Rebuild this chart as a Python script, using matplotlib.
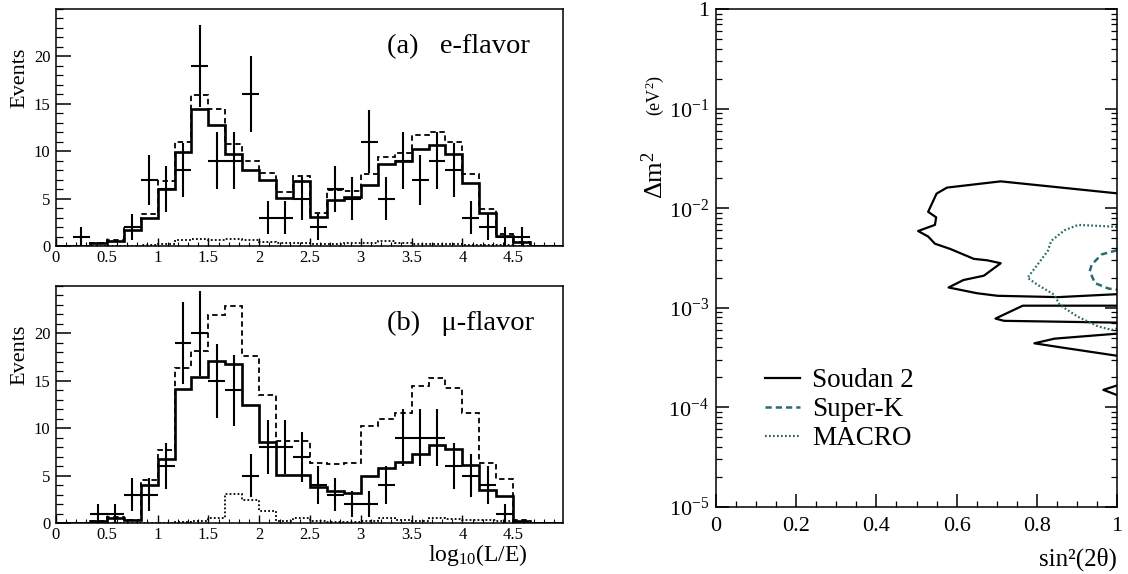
import numpy as np
import matplotlib
matplotlib.use('Agg')
import matplotlib.pyplot as plt
from matplotlib.ticker import MultipleLocator, FixedLocator, FixedFormatter, NullFormatter

plt.rcParams['font.family'] = 'Liberation Serif'
plt.rcParams['mathtext.fontset'] = 'custom'
plt.rcParams['mathtext.rm'] = 'Liberation Serif'
plt.rcParams['mathtext.it'] = 'Liberation Serif:italic'
plt.rcParams['mathtext.bf'] = 'Liberation Serif:bold'

# ---- L/E histograms (30 bins from 0 to 5) ----
bin_edges = np.linspace(0, 5, 31)
nan = np.nan

a_solid = [0, 0, 0.3, 0.5, 1.7, 3.0, 6.0, 9.9, 14.4, 12.8, 9.7, 8.0, 7.0, 5.1, 6.9,
           3.1, 4.9, 5.2, 6.4, 8.6, 9.0, 10.2, 10.7, 9.7, 6.6, 3.5, 1.1, 0.4, 0, 0]
a_dash = [0, 0, 0.3, 0.6, 2.0, 3.4, 6.9, 11.0, 15.9, 14.4, 10.8, 9.0, 7.7, 5.7, 7.4,
          3.5, 5.9, 5.8, 7.6, 9.4, 9.8, 11.7, 12.0, 11.0, 7.6, 3.9, 1.3, 0.4, 0, 0]
a_dot = [0, 0, 0, 0, 0, 0.1, 0.25, 0.6, 0.75, 0.6, 0.7, 0.6, 0.4, 0.3, 0.3,
         0.2, 0.2, 0.3, 0.3, 0.5, 0.3, 0.2, 0.2, 0.2, 0.1, 0.1, 0.1, 0, 0, 0]
a_data = [nan, 1, nan, nan, 2, 7, 6, 8, 19, 9, 9, 16, 3, 3, 5,
          2, 6, 5, 11, 5, 9, 7, 9, 8, 3, 2, 1, 1, nan, nan]

b_solid = [0, 0, 0.2, 0.5, 0.3, 4.0, 6.8, 14.1, 15.4, 17.1, 16.8, 12.4, 8.5, 5.1, 5.1,
           3.8, 3.4, 3.2, 5.0, 5.8, 6.4, 7.3, 8.2, 7.8, 6.1, 3.5, 2.8, 0.2, 0, 0]
b_dash = [0, 0, 0.2, 0.6, 0.3, 4.5, 7.7, 16.4, 18.1, 21.9, 22.9, 17.6, 13.5, 8.6, 8.6,
          6.3, 6.2, 6.3, 10.2, 11.0, 11.6, 14.4, 15.3, 14.2, 11.6, 6.3, 4.6, 0.3, 0, 0]
b_dot = [0, 0, 0, 0, 0, 0, 0, 0.1, 0.2, 0.5, 3.1, 2.4, 1.3, 0.2, 0.5,
         0.2, 0.1, 0.1, 0.2, 0.5, 0.3, 0.2, 0.5, 0.4, 0.3, 0.3, 0.2, 0.1, 0, 0]
b_data = [nan, nan, 1, 1, 3, 3, 6, 19, 20, 15, 14, 5, 8, 8, 7,
          4, 3, 2, 2, 4, 9, 9, 9, 6, 5, 4, 1, nan, nan, nan]

x_ticks = [0, 0.5, 1, 1.5, 2, 2.5, 3, 3.5, 4, 4.5]
x_ticklabels = ['0', '0.5', '1', '1.5', '2', '2.5', '3', '3.5', '4', '4.5']
y_ticks = [0, 5, 10, 15, 20]

# ---- allowed region contours ----
soudan_main_s = [1.0, 0.71, 0.576, 0.550, 0.538, 0.529, 0.549, 0.546, 0.504, 0.529, 0.546,
                 0.584, 0.643, 0.676, 0.710, 0.668, 0.617, 0.580, 0.651, 0.702, 0.853, 1.0]
soudan_main_m = [1.41e-2, 1.86e-2, 1.61e-2, 1.40e-2, 1.10e-2, 9.2e-3, 8.1e-3, 6.8e-3, 5.9e-3,
                 5.2e-3, 4.4e-3, 3.9e-3, 3.1e-3, 3.0e-3, 2.8e-3, 2.1e-3, 1.9e-3, 1.6e-3,
                 1.4e-3, 1.32e-3, 1.28e-3, 1.37e-3]
soudan_lobe2_s = [1.0, 0.765, 0.697, 0.718, 1.0]
soudan_lobe2_m = [1.05e-3, 1.05e-3, 7.8e-4, 7.4e-4, 7.1e-4]
soudan_lobe3_s = [1.0, 0.844, 0.794, 0.861, 1.0]
soudan_lobe3_m = [5.5e-4, 4.9e-4, 4.4e-4, 4.0e-4, 3.3e-4]
soudan_lobe4_s = [1.0, 0.966, 1.0]
soudan_lobe4_m = [1.66e-4, 1.5e-4, 1.33e-4]

superk_s = [1.0, 0.962, 0.937, 0.932, 0.945, 0.979, 1.0]
superk_m = [3.78e-3, 3.44e-3, 2.72e-3, 2.33e-3, 1.77e-3, 1.56e-3, 1.52e-3]

macro_s = [1.0, 0.903, 0.869, 0.836, 0.827, 0.777, 0.802, 0.844, 0.857, 0.903, 0.953, 0.987, 1.0]
macro_m = [6.5e-3, 6.8e-3, 6.0e-3, 4.7e-3, 3.7e-3, 2.0e-3, 1.7e-3, 1.35e-3, 1.07e-3,
           8.1e-4, 6.5e-4, 6.0e-4, 6.2e-4]

teal = '#2b6b6b'

fig = plt.figure(figsize=(11.28, 5.74), dpi=100)
W, H = 1128.0, 574.0


def px_axes(left, top, right, bottom):
    return fig.add_axes([left / W, (H - bottom) / H, (right - left) / W, (bottom - top) / H])


def hist_panel(ax, solid, dash, dot, data, label):
    centers = 0.5 * (bin_edges[:-1] + bin_edges[1:])
    half = 0.5 * (bin_edges[1] - bin_edges[0])
    ax.stairs(dot, bin_edges, color='k', lw=1.3, linestyle=(0, (1, 1.2)))
    ax.stairs(dash, bin_edges, color='k', lw=1.3, linestyle=(0, (3, 2)))
    ax.stairs(solid, bin_edges, color='k', lw=1.9)
    d = np.array(data, dtype=float)
    ok = ~np.isnan(d)
    ax.errorbar(centers[ok], d[ok], xerr=half, yerr=np.sqrt(d[ok]), fmt='none',
                ecolor='k', elinewidth=1.5, capsize=0)
    ax.set_xlim(0, 4.99)
    ax.set_ylim(0, 25)
    ax.set_xticks(x_ticks)
    ax.set_xticklabels(x_ticklabels)
    ax.xaxis.set_minor_locator(MultipleLocator(0.1))
    ax.set_yticks(y_ticks)
    ax.yaxis.set_minor_locator(MultipleLocator(1))
    ax.tick_params(axis='y', which='major', direction='in', length=11, width=1.1, labelsize=12, pad=4)
    ax.tick_params(axis='y', which='minor', direction='in', length=5, width=0.9)
    ax.tick_params(axis='x', which='major', direction='in', length=6, width=1.0, labelsize=12, pad=3)
    ax.tick_params(axis='x', which='minor', direction='in', length=3, width=0.8)
    for sp in ax.spines.values():
        sp.set_linewidth(1.1)
    ax.text(0.653, 0.84, label, transform=ax.transAxes, fontsize=20.5, ha='left', va='center')
    ax.text(-0.072, 0.71, 'Events', transform=ax.transAxes, fontsize=16, rotation=90,
            ha='center', va='center')


ax_a = px_axes(56, 9, 563, 246)
hist_panel(ax_a, a_solid, a_dash, a_dot, a_data, '(a)   e-flavor')

ax_b = px_axes(56, 286, 563, 523)
hist_panel(ax_b, b_solid, b_dash, b_dot, b_data, '(b)   \u03bc-flavor')
ax_b.text(0.931, -0.135, r'log$_{10}$(L/E)', transform=ax_b.transAxes, fontsize=17,
          ha='right', va='center')

# ---- right panel ----
ax_c = px_axes(716, 9, 1117, 507)
ax_c.set_yscale('log')
ax_c.plot(soudan_main_s, soudan_main_m, color='k', lw=1.6, label='Soudan 2')
ax_c.plot(soudan_lobe2_s, soudan_lobe2_m, color='k', lw=1.6)
ax_c.plot(soudan_lobe3_s, soudan_lobe3_m, color='k', lw=1.6)
ax_c.plot(soudan_lobe4_s, soudan_lobe4_m, color='k', lw=1.6)
ax_c.plot(superk_s, superk_m, color=teal, lw=1.8, linestyle=(0, (2.5, 1.6)), label='Super-K')
ax_c.plot(macro_s, macro_m, color=teal, lw=1.6, linestyle=(0, (0.8, 1.0)), label='MACRO')
ax_c.set_xlim(0, 1)
ax_c.set_ylim(1e-5, 1)
ax_c.set_xticks([0, 0.2, 0.4, 0.6, 0.8, 1])
ax_c.set_xticklabels(['0', '0.2', '0.4', '0.6', '0.8', '1'])
ax_c.xaxis.set_minor_locator(MultipleLocator(0.05))
ax_c.yaxis.set_major_locator(FixedLocator([1e-5, 1e-4, 1e-3, 1e-2, 1e-1, 1]))
ax_c.yaxis.set_major_formatter(FixedFormatter([r'$10^{-5}$', r'$10^{-4}$', r'$10^{-3}$',
                                               r'$10^{-2}$', r'$10^{-1}$', '1']))
minor_pos = [m * 10.0 ** e for e in range(-5, 0) for m in range(2, 10)]
ax_c.yaxis.set_minor_locator(FixedLocator(minor_pos))
ax_c.yaxis.set_minor_formatter(NullFormatter())
ax_c.tick_params(axis='y', which='major', direction='in', length=9, width=1.1, labelsize=16,
                 pad=5, right=True)
ax_c.tick_params(axis='y', which='minor', direction='in', length=4.5, width=0.9, right=True)
ax_c.tick_params(axis='x', which='major', direction='in', length=9.5, width=1.1, labelsize=16, pad=7)
ax_c.tick_params(axis='x', which='minor', direction='in', length=4.5, width=0.9)
for sp in ax_c.spines.values():
    sp.set_linewidth(1.1)

ax_c.text(1.0, -0.105, 'sin\u00b2(2\u03b8)', transform=ax_c.transAxes, fontsize=18,
          ha='right', va='center')
fig.text(655 / W, (H - 175) / H, r'$\Delta$m$^{2}$', fontsize=19, rotation=90, ha='center', va='center')
fig.text(655 / W, (H - 95) / H, r'(eV$^{2}$)', fontsize=13, rotation=90, ha='center', va='center')

ax_c.legend(loc='center left', bbox_to_anchor=(0.122, 0.195), frameon=False, fontsize=19.5,
            handlelength=1.3, handletextpad=0.45, labelspacing=0.15, borderpad=0, borderaxespad=0)

fig.savefig('out.png', dpi=100)
